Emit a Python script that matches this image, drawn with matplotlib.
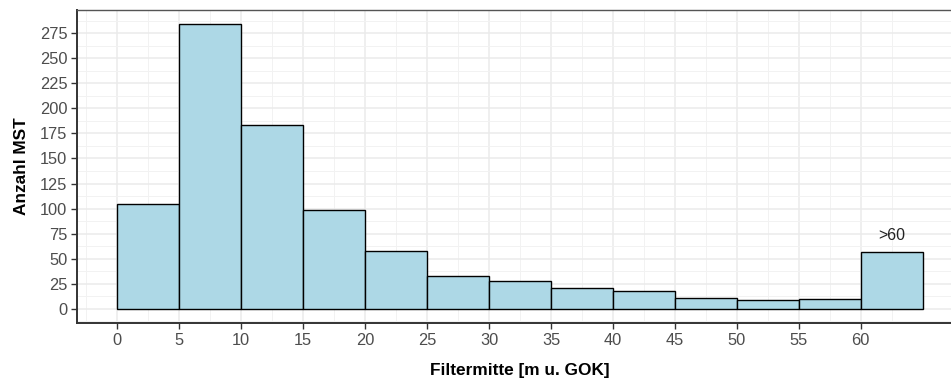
import matplotlib
matplotlib.use('Agg')
import matplotlib.pyplot as plt
import numpy as np

# ── Data: histogram of filter depth (5 m bins, last bin = >60) ──
BIN_EDGES = [0, 5, 10, 15, 20, 25, 30, 35, 40, 45, 50, 55, 60, 65]
COUNTS = [105, 284, 183, 99, 58, 33, 28, 21, 18, 11, 9, 10, 57]
X_TICKS = [0, 5, 10, 15, 20, 25, 30, 35, 40, 45, 50, 55, 60]
Y_TICKS = [0, 25, 50, 75, 100, 125, 150, 175, 200, 225, 250, 275]
LAST_LABEL = '>60'

FILL = '#ADD8E6'
GRID_MAJOR = '#EBEBEB'
GRID_MINOR = '#F2F2F2'
BORDER = '#333333'
TICK_TEXT = '#4D4D4D'

plt.rcParams['font.family'] = ['Liberation Sans', 'DejaVu Sans']

W, H = 951, 383
fig = plt.figure(figsize=(W / 100, H / 100), dpi=100, facecolor='white')
# panel runs past the right edge (the reference is cropped there)
ax = fig.add_axes([77 / W, 1 - 323 / H, (963 - 77) / W, (323 - 10) / H])

edges = np.array(BIN_EDGES, dtype=float)
widths = np.diff(edges)
ax.bar(edges[:-1], COUNTS, width=widths, align='edge',
       color=FILL, edgecolor='black', linewidth=1.0, zorder=3)

# ggplot-style 5 % expansion
xr = edges[-1] - edges[0]
ax.set_xlim(edges[0] - 0.05 * xr, edges[-1] + 0.05 * xr)
ymax = max(COUNTS)
ax.set_ylim(-0.05 * ymax, ymax * 1.05)

ax.set_xticks(X_TICKS)
ax.set_yticks(Y_TICKS)
ax.set_xticks(np.arange(-2.5, 70, 5), minor=True)
ax.set_yticks(np.arange(-12.5, 300, 25), minor=True)
ax.grid(True, which='major', color=GRID_MAJOR, linewidth=1.1, zorder=0)
ax.grid(True, which='minor', color=GRID_MINOR, linewidth=0.7, zorder=0)
ax.set_axisbelow(True)

for side in ['top', 'right']:
    ax.spines[side].set_color('#555555')
    ax.spines[side].set_linewidth(1.0)
for side in ['left', 'bottom']:
    ax.spines[side].set_color(BORDER)
    ax.spines[side].set_linewidth(1.4)

ax.tick_params(which='major', direction='out', length=4, width=1.0,
               color=BORDER, labelcolor=TICK_TEXT, labelsize=11.8, pad=3)
ax.tick_params(which='minor', length=0)

ax.set_xlabel('Filtermitte [m u. GOK]', fontsize=12.4, fontweight='bold',
              color='black', labelpad=11)
ax.set_ylabel('Anzahl MST', fontsize=12.4, fontweight='bold',
              color='black', labelpad=8)

# label over the last (open) bin
ax.text(edges[-2] + widths[-1] / 2, COUNTS[-1] + 16, LAST_LABEL,
        ha='center', va='center', fontsize=11.5, color='#222222')

fig.savefig('out.png', dpi=100, facecolor='white')
